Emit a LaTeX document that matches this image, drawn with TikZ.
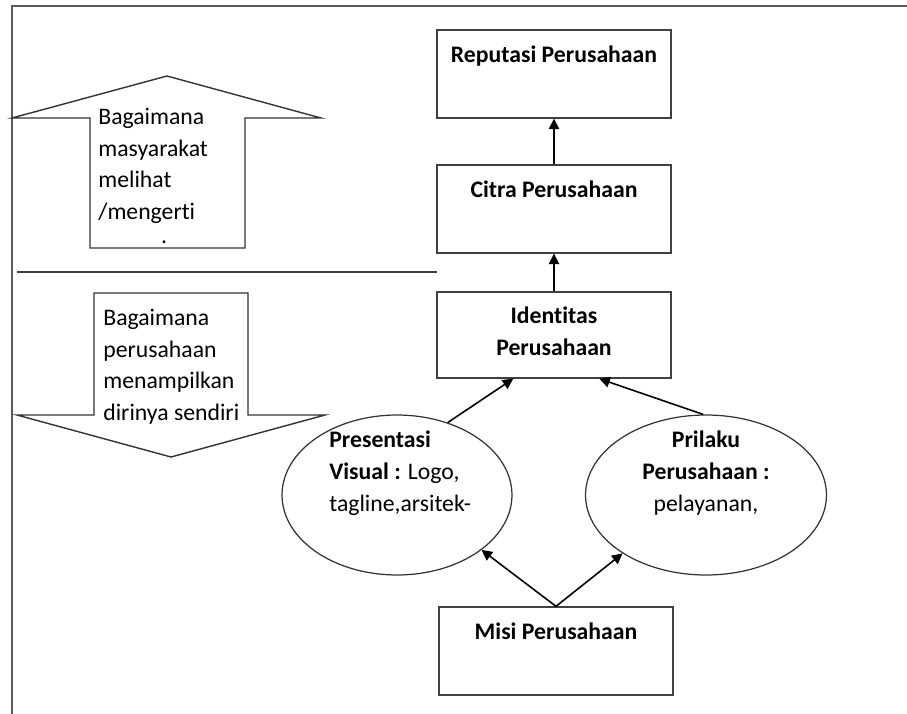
\documentclass[tikz,border=0pt]{standalone}
\usepackage{fontspec}
\setmainfont{Carlito}[Ligatures=NoCommon]
\usepackage{tikz}
\usetikzlibrary{arrows.meta,positioning,shapes.geometric}

\begin{document}
\begin{tikzpicture}[x=0.02cm,y=-0.02cm,>={Triangle[length=6pt,width=6pt]},
  box/.style={draw=black!75,line width=0.8pt,minimum width=4.68cm,minimum height=1.76cm,inner sep=0pt},
  oval/.style={ellipse,draw=black!80,line width=0.7pt,minimum height=3.2cm,inner sep=0pt},
  txt/.style={font=\fontsize{13.5}{18}\selectfont,inner sep=0pt},
  head/.style={label={[txt,font=\fontsize{13.5}{18}\selectfont\bfseries,anchor=north,yshift=-0.32cm]north:#1}},
  link/.style={->,line width=0.9pt}]
\useasboundingbox (0,0) rectangle (907,714);

% frame
\draw[black!65,line width=1.3pt] (12,714) -- (12,6) -- (907,6);

% left: the two broad arrows and the divider
\draw[black!80,line width=0.8pt] (167,76) -- (321,118) -- (245,118) -- (245,248)
  -- (90,248) -- (90,118) -- (12,118) -- cycle;
\node[txt,align=left,anchor=north west] (up) at (98,108)
  {Bagaimana\\masyarakat\\melihat\\/mengerti};
\node[txt] (dot) at (164,242) {.};

\draw[black!75,line width=0.8pt] (17,272) -- (437,272);

\draw[black!80,line width=0.8pt] (94,293) -- (248,293) -- (248,415) -- (325,415)
  -- (171,457) -- (17,415) -- (94,415) -- cycle;
\node[txt,align=left,anchor=north west] (down) at (103,309)
  {Bagaimana\\perusahaan\\menampilkan\\dirinya sendiri};

% right: the chain of boxes
\node[box,head={Reputasi Perusahaan}] (rep) at (554,74) {};
\node[box,head={Citra Perusahaan}] (cit) at (554,209) {};
\node[box,minimum height=1.72cm] (id) at (554,335) {};
\node[txt,font=\fontsize{13.5}{18}\selectfont\bfseries,align=center,anchor=north] (idt) at (554,307)
  {Identitas\\Perusahaan};
\node[box,head={Misi Perusahaan}] (misi) at (556,651) {};

\node[oval,minimum width=4.6cm] (pv) at (397,495) {};
\node[txt,align=left,anchor=north west] (pvt) at (329,431)
  {\textbf{Presentasi}\\\textbf{Visual :} Logo,\\tagline,arsitek-};
\node[oval,minimum width=4.82cm] (pb) at (706,495) {};
\node[txt,align=center,anchor=north] (pbt) at (706,431)
  {\textbf{Prilaku}\\\textbf{Perusahaan :}\\pelayanan,};

% connectors
\draw[link] (cit.north) -- (rep.south);
\draw[link] (id.north) -- (cit.south);
\draw[link] (pv.55) -- (id.227);
\draw[link] (pb.92) -- (id.316);
\draw[link] (misi.north) -- (pv.327);
\draw[link] (misi.north) -- (pb.215);
\end{tikzpicture}
\end{document}
